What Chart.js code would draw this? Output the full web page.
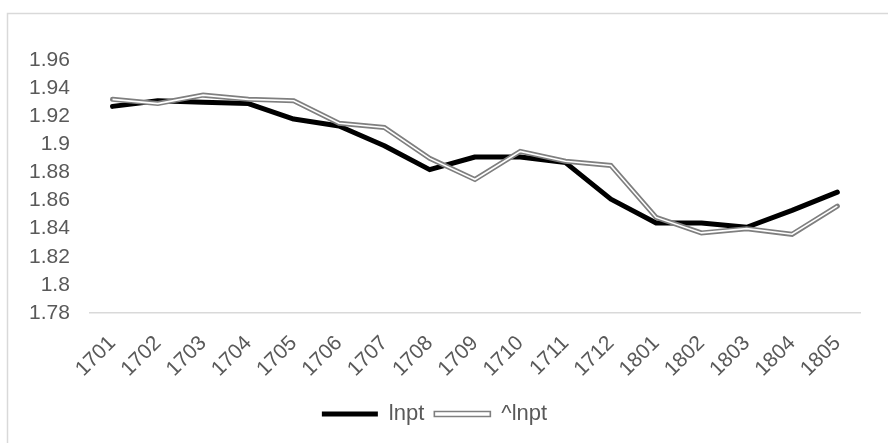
<!DOCTYPE html>
<html>
<head>
<meta charset="utf-8">
<script src="https://cdn.jsdelivr.net/npm/chart.js@4/dist/chart.umd.min.js"></script>
<style>
  html, body { margin: 0; padding: 0; background: #fff; }
  #wrap { width: 888px; height: 443px; position: relative; }
</style>
</head>
<body>
<div id="wrap"><canvas id="chart"></canvas></div>
<script>
// Data
const periods = ['1701', '1702', '1703', '1704', '1705', '1706', '1707', '1708', '1709',
  '1710', '1711', '1712', '1801', '1802', '1803', '1804', '1805'];
const lnpt = [1.927, 1.931, 1.930, 1.929, 1.918, 1.913, 1.899, 1.882, 1.891,
  1.891, 1.887, 1.861, 1.844, 1.844, 1.841, 1.853, 1.866];
const lnptHat = [1.932, 1.929, 1.935, 1.932, 1.931, 1.915, 1.912, 1.890, 1.875,
  1.895, 1.888, 1.885, 1.848, 1.837, 1.840, 1.836, 1.856];
const yTicks = [1.78, 1.8, 1.82, 1.84, 1.86, 1.88, 1.9, 1.92, 1.94, 1.96];

const textColor = '#595959';
const fontFamily = '"Liberation Sans", Arial, sans-serif';

// light gray frame round the chart (cut off at right/bottom like the source)
const frame = {
  id: 'frame',
  beforeDraw(chart) {
    const ctx = chart.ctx;
    ctx.save();
    ctx.strokeStyle = '#d9d9d9';
    ctx.lineWidth = 1.5;
    ctx.strokeRect(7.5, 13.5, 900, 450);
    ctx.restore();
  }
};

Chart.defaults.font.family = fontFamily;
Chart.defaults.color = textColor;

new Chart(document.getElementById('chart'), {
  type: 'line',
  data: {
    labels: periods,
    datasets: [
      {
        label: 'lnpt',
        data: lnpt,
        borderColor: '#000',
        backgroundColor: '#000',
        borderWidth: 5,
        pointRadius: 0,
        tension: 0,
        borderJoinStyle: 'round',
        borderCapStyle: 'round',
        order: 2
      },
      {
        label: '^lnpt',
        data: lnptHat,
        borderColor: '#7f7f7f',
        backgroundColor: '#fff',
        borderWidth: 5,
        pointRadius: 0,
        tension: 0,
        borderCapStyle: 'round',
        order: 1
      },
      {
        // white core of the double line
        label: '_core',
        data: lnptHat,
        borderColor: '#fff',
        borderWidth: 1.6,
        pointRadius: 0,
        tension: 0,
        order: 0
      }
    ]
  },
  options: {
    responsive: true,
    maintainAspectRatio: false,
    animation: false,
    layout: { padding: { left: 9, right: 28, top: 60, bottom: 8 } },
    plugins: {
      tooltip: { enabled: false },
      legend: {
        position: 'bottom',
        labels: {
          filter: item => item.text !== '_core',
          boxWidth: 56,
          boxHeight: 5,
          padding: 10,
          color: textColor,
          font: { size: 22 },
          generateLabels: chart => chart.data.datasets.map((ds, i) => ({
            text: ds.label,
            fillStyle: i === 0 ? '#000' : '#fff',
            strokeStyle: i === 0 ? '#000' : '#7f7f7f',
            lineWidth: i === 0 ? 0 : 1.6,
            fontColor: textColor,
            datasetIndex: i
          }))
        }
      }
    },
    scales: {
      x: {
        offset: true,
        afterFit: axis => { axis.height = 80; },
        grid: { display: false, drawTicks: false },
        border: { display: true, color: '#d9d9d9', width: 1.5 },
        ticks: {
          autoSkip: false,
          minRotation: 45,
          maxRotation: 45,
          padding: 18,
          color: textColor,
          font: { size: 21 }
        }
      },
      y: {
        min: 1.78,
        max: 1.96,
        afterBuildTicks: axis => { axis.ticks = yTicks.map(v => ({ value: v })); },
        grid: { display: false, drawTicks: false },
        border: { display: false },
        ticks: {
          autoSkip: false,
          padding: 20,
          color: textColor,
          font: { size: 21 },
          callback: v => String(parseFloat(v.toFixed(2)))
        }
      }
    }
  },
  plugins: [frame]
});
</script>
</body>
</html>
